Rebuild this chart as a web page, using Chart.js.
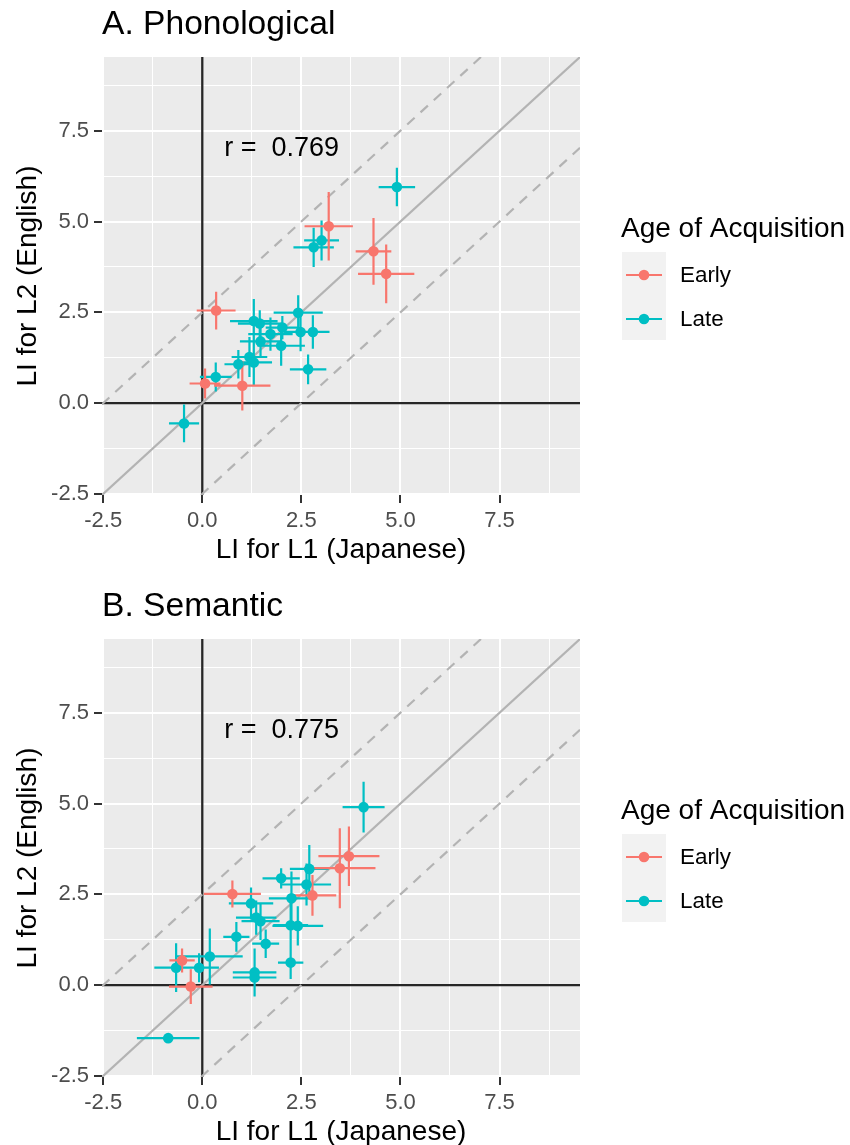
<!DOCTYPE html>
<html><head><meta charset="utf-8">
<script src="https://cdn.jsdelivr.net/npm/chart.js@4/dist/chart.umd.min.js"></script>
<style>
html,body{margin:0;padding:0;background:#fff;overflow:hidden;width:850px;height:1145px}
.wrap{position:absolute;left:0;width:850px;height:582px}
canvas{display:block}
</style></head><body>
<div class="wrap" style="top:0"><canvas id="cA" width="850" height="582"></canvas></div>
<div class="wrap" style="top:582px"><canvas id="cB" width="850" height="582"></canvas></div>
<script>
// ---- Data ----
const phonEarlyX    = [3.19, 4.32, 4.64, 0.35, 0.07, 1.01];
const phonEarlyY    = [4.87, 4.18, 3.56, 2.55, 0.54, 0.48];
const phonEarlyXErr = [0.61, 0.45, 0.71, 0.49, 0.39, 0.71];
const phonEarlyYErr = [0.94, 0.92, 0.81, 0.52, 0.41, 0.68];

const phonLateX    = [4.91, 3.01, 2.81, 2.42, 1.30, 1.45, 2.02, 1.72, 2.48, 2.79, 1.47, 1.99, 1.19, 0.91, 1.30, 2.67, 0.34, -0.46];
const phonLateY    = [5.95, 4.48, 4.29, 2.49, 2.26, 2.19, 2.08, 1.90, 1.96, 1.96, 1.70, 1.58, 1.27, 1.07, 1.12, 0.93, 0.72, -0.56];
const phonLateXErr = [0.46, 0.44, 0.51, 0.62, 0.60, 0.55, 0.42, 0.56, 0.42, 0.42, 0.52, 0.60, 0.45, 0.35, 0.46, 0.46, 0.40, 0.38];
const phonLateYErr = [0.53, 0.55, 0.54, 0.48, 0.61, 0.37, 0.32, 0.46, 0.53, 0.46, 0.44, 0.55, 0.55, 0.39, 0.64, 0.41, 0.40, 0.52];

const semEarlyX    = [3.70, 3.47, 2.78, 0.76, -0.51, -0.29];
const semEarlyY    = [3.55, 3.22, 2.47, 2.51, 0.68, -0.04];
const semEarlyXErr = [0.77, 0.90, 0.60, 0.72, 0.32, 0.55];
const semEarlyYErr = [0.82, 1.10, 0.56, 0.37, 0.33, 0.48];

const semLateX    = [4.07, 2.70, 1.99, 2.63, 2.25, 1.23, 1.36, 1.47, 2.23, 2.41, 0.86, 1.60, 2.23, 0.19, -0.66, -0.08, 1.32, 1.32, -0.86];
const semLateY    = [4.90, 3.20, 2.94, 2.77, 2.39, 2.25, 1.86, 1.76, 1.65, 1.63, 1.33, 1.14, 0.62, 0.79, 0.48, 0.48, 0.35, 0.21, -1.46];
const semLateXErr = [0.53, 0.49, 0.47, 0.62, 0.57, 0.56, 0.51, 0.48, 0.44, 0.64, 0.33, 0.34, 0.32, 0.83, 0.55, 0.50, 0.55, 0.55, 0.79];
const semLateYErr = [0.70, 0.66, 0.28, 0.58, 0.74, 0.44, 0.47, 0.52, 0.82, 0.54, 0.41, 0.39, 0.45, 0.77, 0.67, 0.40, 0.66, 0.50, 0.00];

const tickValues = [-2.5, -1.25, 0, 1.25, 2.5, 3.75, 5, 6.25, 7.5, 8.75];
const majorTicks = [-2.5, 0, 2.5, 5, 7.5];
const groupLabels = ['Early', 'Late'];
const axisMin = -2.53, axisMax = 9.53;
const refOffset = 2.5;

const COL_EARLY = '#F8766D', COL_LATE = '#00BFC4';
const FONT = '"Liberation Sans", Arial, Helvetica, sans-serif';

function isMajor(v){ return majorTicks.some(m => Math.abs(m - v) < 1e-6); }

function errSegments(xs, ys, xe, ye){
  const d = [];
  for (let i = 0; i < xs.length; i++){
    d.push({x: xs[i]-xe[i], y: ys[i]}, {x: xs[i]+xe[i], y: ys[i]}, {x: null, y: null});
    d.push({x: xs[i], y: ys[i]-ye[i]}, {x: xs[i], y: ys[i]+ye[i]}, {x: null, y: null});
  }
  return d;
}
function pts(xs, ys){ return xs.map((x,i)=>({x, y: ys[i]})); }

const bgPlugin = {
  id: 'panelBg',
  beforeDraw(chart){
    const {ctx, chartArea: a} = chart;
    ctx.save(); ctx.fillStyle = '#EBEBEB';
    ctx.fillRect(a.left, a.top, a.right - a.left, a.bottom - a.top);
    ctx.restore();
  }
};

function makeOverlay(rText){
  return {
    id: 'overlay',
    afterDraw(chart){
      const ctx = chart.ctx, xs = chart.scales.x, ys = chart.scales.y;
      ctx.save();
      ctx.fillStyle = '#000';
      ctx.font = '27px ' + FONT;
      ctx.textAlign = 'center'; ctx.textBaseline = 'middle';
      ctx.fillText(rText, xs.getPixelForValue(2.0), ys.getPixelForValue(7.0));
      ctx.textAlign = 'left'; ctx.textBaseline = 'alphabetic';
      ctx.font = '28px ' + FONT;
      ctx.fillText('Age of Acquisition', 621, 237);
      ctx.fillStyle = '#F2F2F2';
      ctx.fillRect(622, 252, 44, 88);
      const rows = [{c: COL_EARLY, y: 275, t: groupLabels[0]}, {c: COL_LATE, y: 319, t: groupLabels[1]}];
      for (const r of rows){
        ctx.strokeStyle = r.c; ctx.lineWidth = 2.2;
        ctx.beginPath(); ctx.moveTo(626, r.y); ctx.lineTo(662, r.y); ctx.stroke();
        ctx.fillStyle = r.c;
        ctx.beginPath(); ctx.arc(644, r.y, 5.3, 0, Math.PI*2); ctx.fill();
        ctx.fillStyle = '#000';
        ctx.font = '22.4px ' + FONT;
        ctx.textBaseline = 'middle';
        ctx.fillText(r.t, 680, r.y + 1);
      }
      ctx.restore();
    }
  };
}

function axisCfg(titleText, isX){
  const cfg = {
    type: 'linear', min: axisMin, max: axisMax,
    afterBuildTicks: s => { s.ticks = tickValues.map(v => ({value: v})); },
    border: {display: false},
    grid: {
      color: '#FFFFFF',
      lineWidth: c => (c.tick && isMajor(c.tick.value)) ? 2 : 1,
      drawTicks: true, tickLength: 8,
      tickColor: c => (c.tick && isMajor(c.tick.value)) ? '#333333' : 'rgba(0,0,0,0)',
      tickWidth: 2
    },
    ticks: {
      autoSkip: false, maxRotation: 0, minRotation: 0,
      color: '#4D4D4D', font: {size: 22, family: FONT},
      padding: isX ? 5 : 5,
      callback: v => isMajor(v) ? Number(v).toFixed(1) : ''
    },
    title: {
      display: true, text: titleText, color: '#000',
      font: {size: 28, family: FONT},
      padding: isX ? {top: 0, bottom: 15} : {top: 11, bottom: 0}
    }
  };
  if (isX) cfg.afterFit = s => { s.height = 87; };
  else cfg.afterFit = s => { s.width = 102; };
  return cfg;
}

function makePanel(id, titleText, rText, eX, eY, eXE, eYE, lX, lY, lXE, lYE){
  const datasets = [
    {label: groupLabels[0], data: pts(eX, eY), pointRadius: 5.3, pointBackgroundColor: COL_EARLY, pointBorderWidth: 0, showLine: false, order: 1},
    {label: groupLabels[1], data: pts(lX, lY), pointRadius: 5.3, pointBackgroundColor: COL_LATE, pointBorderWidth: 0, showLine: false, order: 1},
    {label: 'errEarly', data: errSegments(eX, eY, eXE, eYE), showLine: true, pointRadius: 0, borderColor: COL_EARLY, borderWidth: 2.2, spanGaps: false, order: 2},
    {label: 'errLate', data: errSegments(lX, lY, lXE, lYE), showLine: true, pointRadius: 0, borderColor: COL_LATE, borderWidth: 2.2, spanGaps: false, order: 2},
    {label: 'identity', data: [{x: axisMin, y: axisMin}, {x: axisMax, y: axisMax}], showLine: true, pointRadius: 0, borderColor: '#B3B3B3', borderWidth: 2.2, order: 3},
    {label: 'upper', data: [{x: axisMin, y: axisMin + refOffset}, {x: axisMax - refOffset, y: axisMax}], showLine: true, pointRadius: 0, borderColor: '#B3B3B3', borderWidth: 2.2, borderDash: [10, 8], order: 3},
    {label: 'lower', data: [{x: axisMin + refOffset, y: axisMin}, {x: axisMax, y: axisMax - refOffset}], showLine: true, pointRadius: 0, borderColor: '#B3B3B3', borderWidth: 2.2, borderDash: [10, 8], order: 3},
    {label: 'vzero', data: [{x: 0, y: axisMin}, {x: 0, y: axisMax}], showLine: true, pointRadius: 0, borderColor: '#262626', borderWidth: 2.3, order: 4},
    {label: 'hzero', data: [{x: axisMin, y: 0}, {x: axisMax, y: 0}], showLine: true, pointRadius: 0, borderColor: '#262626', borderWidth: 2.3, order: 4}
  ];
  return new Chart(document.getElementById(id), {
    type: 'scatter',
    data: {datasets},
    options: {
      responsive: false, animation: false, devicePixelRatio: 1, events: [],
      layout: {padding: {left: 0, right: 270, top: 0, bottom: 0}},
      plugins: {
        legend: {display: false}, tooltip: {enabled: false},
        title: {display: true, text: titleText, align: 'start', fullSize: false, color: '#000',
                font: {size: 33.6, family: FONT, weight: 'normal'}, padding: {top: 5, bottom: 11.7}}
      },
      scales: {
        x: axisCfg('LI for L1 (Japanese)', true),
        y: axisCfg('LI for L2 (English)', false)
      }
    },
    plugins: [bgPlugin, makeOverlay(rText)]
  });
}

makePanel('cA', 'A. Phonological', 'r =  0.769', phonEarlyX, phonEarlyY, phonEarlyXErr, phonEarlyYErr, phonLateX, phonLateY, phonLateXErr, phonLateYErr);
makePanel('cB', 'B. Semantic', 'r =  0.775', semEarlyX, semEarlyY, semEarlyXErr, semEarlyYErr, semLateX, semLateY, semLateXErr, semLateYErr);
</script>
</body></html>
